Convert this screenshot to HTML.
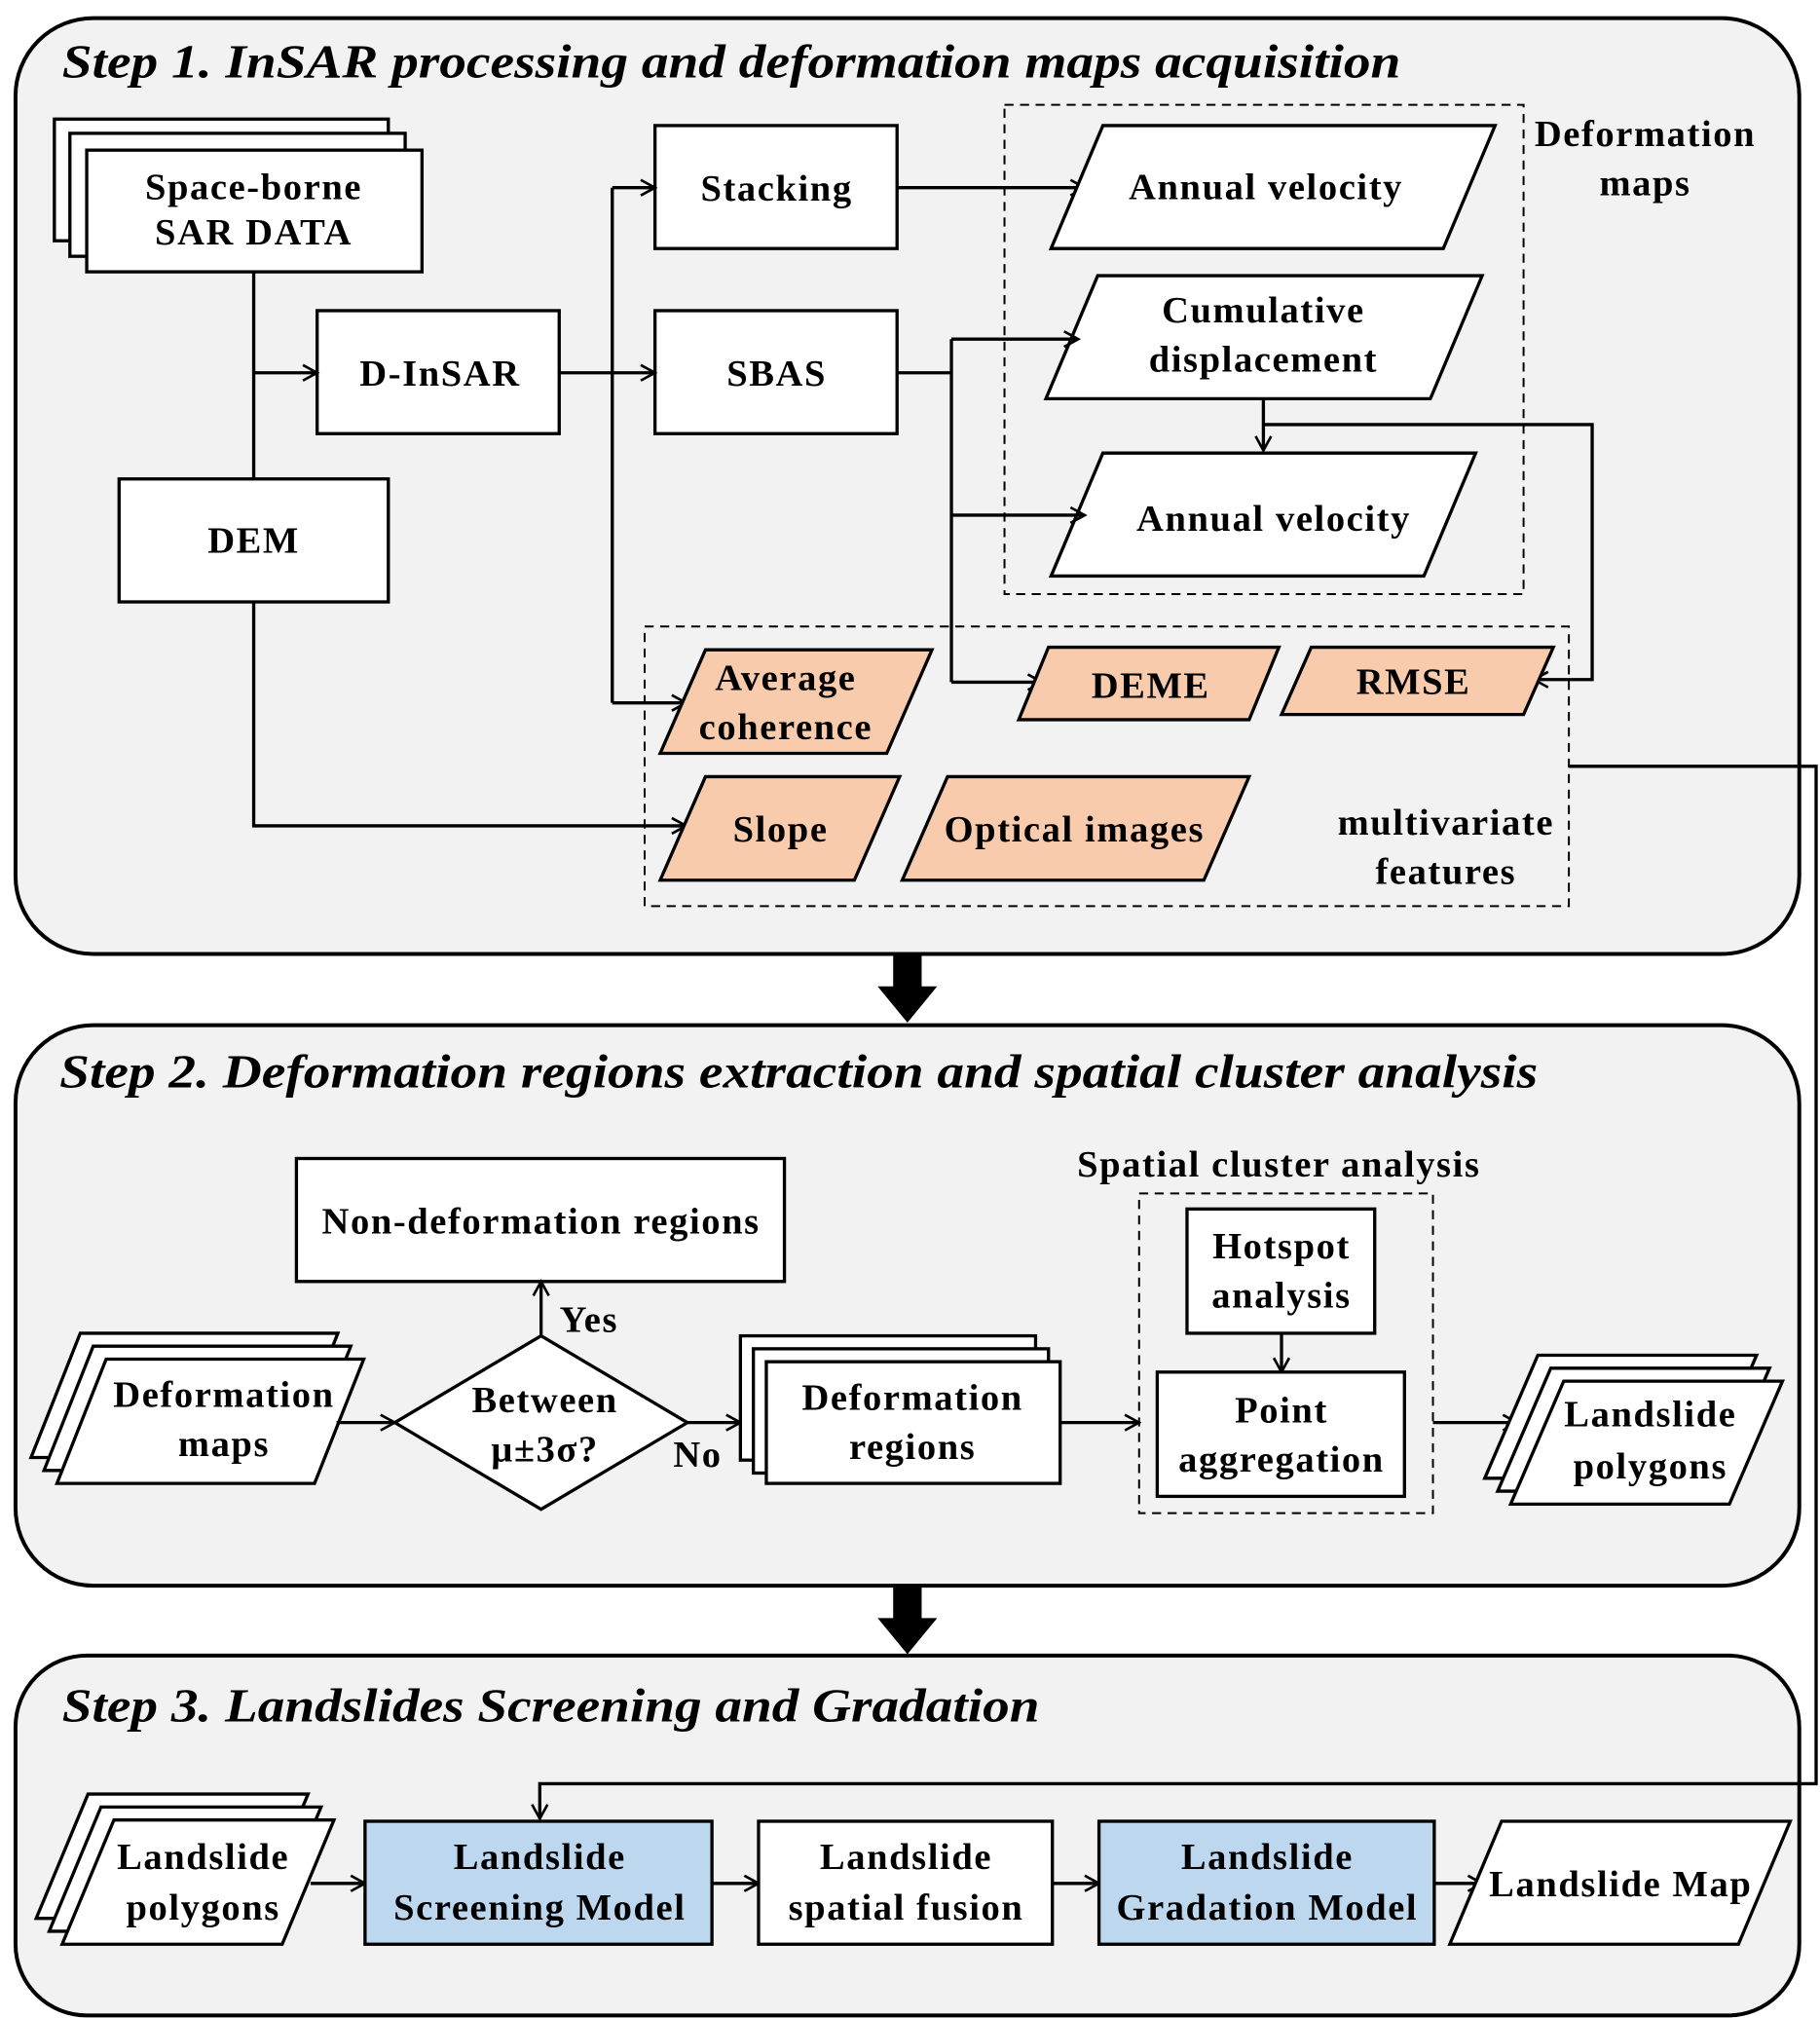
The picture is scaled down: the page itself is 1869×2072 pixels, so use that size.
<!DOCTYPE html>
<html><head><meta charset="utf-8"><style>
html,body{margin:0;padding:0;background:#fff;}
svg{display:block;}
text{font-family:"Liberation Serif",serif;font-weight:bold;font-size:29px;fill:#000;text-anchor:middle;letter-spacing:1.2px;}
.t{font-style:italic;font-size:37px;text-anchor:start;letter-spacing:0;}
.b{fill:#fff;stroke:#000;stroke-width:2.5;}
.o{fill:#f8cbad;stroke:#000;stroke-width:2.5;}
.bl{fill:#bdd7ee;stroke:#000;stroke-width:2.5;}
.d{fill:none;stroke:#000;stroke-width:1.5;stroke-dasharray:7,5;}
.l{fill:none;stroke:#000;stroke-width:2.5;}
.p{fill:#f2f2f2;stroke:#000;stroke-width:3;}
</style></head><body>
<svg width="1869" height="2072" viewBox="0 0 1406 1559" preserveAspectRatio="none" xmlns="http://www.w3.org/2000/svg">
<defs><marker id="a" markerWidth="14" markerHeight="14" refX="12" refY="7" orient="auto" markerUnits="userSpaceOnUse"><path d="M1,1 L12,7 L1,13" fill="none" stroke="#000" stroke-width="2"/></marker></defs>
<rect width="1406" height="1559" fill="#fff"/>
<rect class="p" x="12" y="14" width="1378" height="723" rx="60"/>
<rect class="p" x="12" y="792" width="1378" height="433" rx="60"/>
<rect class="p" x="12" y="1279" width="1378" height="278" rx="55"/>
<polygon points="690,737 712,737 712,762 724,762 701,790 678,762 690,762" fill="#000"/>
<polygon points="690,1225 712,1225 712,1250 724,1250 701,1278 678,1250 690,1250" fill="#000"/>
<text class="t" x="48" y="60" textLength="1034" lengthAdjust="spacingAndGlyphs">Step 1. InSAR processing and deformation maps acquisition</text>
<text class="t" x="46" y="840" textLength="1142" lengthAdjust="spacingAndGlyphs">Step 2. Deformation regions extraction and spatial cluster analysis</text>
<text class="t" x="48" y="1330" textLength="755" lengthAdjust="spacingAndGlyphs">Step 3. Landslides Screening and Gradation</text>

<rect class="b" x="42" y="92" width="258" height="94"/>
<rect class="b" x="54" y="103" width="259" height="95"/>
<rect class="b" x="67" y="116" width="259" height="94"/>
<text x="196" y="154">Space-borne</text><text x="196" y="189">SAR DATA</text>
<rect class="b" x="245" y="240" width="187" height="95"/><text x="340" y="298">D-InSAR</text>
<rect class="b" x="92" y="370" width="208" height="95"/><text x="196" y="427">DEM</text>
<path class="l" d="M196,210 V370"/>
<path class="l" d="M196,288 H245" marker-end="url(#a)"/>
<path class="l" d="M196,465 V638 H530" marker-end="url(#a)"/>
<rect class="b" x="506" y="97" width="187" height="95"/><text x="600" y="155">Stacking</text>
<rect class="b" x="506" y="240" width="187" height="95"/><text x="600" y="298">SBAS</text>
<path class="l" d="M432,288 H506" marker-end="url(#a)"/>
<path class="l" d="M473,145 V543"/>
<path class="l" d="M473,145 H506" marker-end="url(#a)"/>
<path class="l" d="M473,543 H530" marker-end="url(#a)"/>
<path class="l" d="M693,145 H838" marker-end="url(#a)"/>
<rect class="d" x="776" y="81" width="401" height="378"/>
<polygon class="b" points="812,192 852,97 1155,97 1115,192"/><text x="978" y="154">Annual velocity</text>
<polygon class="b" points="808,308 848,213 1145,213 1105,308"/><text x="976" y="249">Cumulative</text><text x="976" y="287">displacement</text>
<polygon class="b" points="812,445 852,350 1140,350 1100,445"/><text x="984" y="410">Annual velocity</text>
<text x="1271" y="113">Deformation</text><text x="1271" y="151">maps</text>
<path class="l" d="M693,288 H735"/>
<path class="l" d="M735,262 V527"/>
<path class="l" d="M735,262 H833" marker-end="url(#a)"/>
<path class="l" d="M735,398 H838" marker-end="url(#a)"/>
<path class="l" d="M735,527 H805" marker-end="url(#a)"/>
<path class="l" d="M976,308 V348" marker-end="url(#a)"/>
<path class="l" d="M976,328 H1230 V525 H1185" marker-end="url(#a)"/>
<rect class="d" x="498" y="484" width="714" height="216"/>
<polygon class="o" points="510,582 545,502 720,502 685,582"/><text x="607" y="533">Average</text><text x="607" y="571">coherence</text>
<polygon class="o" points="787,556 810,500 988,500 965,556"/><text x="889" y="539">DEME</text>
<polygon class="o" points="990,552 1013,500 1200,500 1177,552"/><text x="1092" y="536">RMSE</text>
<polygon class="o" points="510,680 545,600 695,600 660,680"/><text x="603" y="650">Slope</text>
<polygon class="o" points="697,680 732,600 965,600 930,680"/><text x="830" y="650">Optical images</text>
<text x="1117" y="645">multivariate</text><text x="1117" y="683">features</text>
<path class="l" d="M1212,592 H1403 V1378 H417 V1405" marker-end="url(#a)"/>

<rect class="b" x="229" y="895" width="377" height="95"/><text x="418" y="953">Non-deformation regions</text>
<polygon class="b" points="418,1032 531,1099 418,1166 305,1099"/>
<text x="421" y="1091">Between</text><text x="421" y="1129">μ±3σ?</text>
<path class="l" d="M418,1032 V990" marker-end="url(#a)"/>
<text x="455" y="1029">Yes</text>
<polygon class="b" points="24,1126 62,1030 261,1030 223,1126"/>
<polygon class="b" points="34,1136 72,1040 271,1040 233,1136"/>
<polygon class="b" points="44,1146 82,1050 281,1050 243,1146"/>
<text x="173" y="1087">Deformation</text><text x="173" y="1125">maps</text>
<path class="l" d="M260,1099 H305" marker-end="url(#a)"/>
<path class="l" d="M531,1099 H572" marker-end="url(#a)"/>
<text x="539" y="1133">No</text>
<rect class="b" x="572" y="1032" width="228" height="96"/>
<rect class="b" x="582" y="1042" width="228" height="96"/>
<rect class="b" x="592" y="1052" width="227" height="94"/>
<text x="705" y="1089">Deformation</text><text x="705" y="1127">regions</text>
<path class="l" d="M819,1099 H880" marker-end="url(#a)"/>
<text x="988" y="909">Spatial cluster analysis</text>
<rect class="d" x="880" y="922" width="227" height="247"/>
<rect class="b" x="917" y="934" width="145" height="96"/><text x="990" y="972">Hotspot</text><text x="990" y="1010">analysis</text>
<path class="l" d="M990,1030 V1060" marker-end="url(#a)"/>
<rect class="b" x="894" y="1060" width="191" height="96"/><text x="990" y="1099">Point</text><text x="990" y="1137">aggregation</text>
<path class="l" d="M1107,1099 H1172" marker-end="url(#a)"/>
<polygon class="b" points="1147,1142 1188,1047 1357,1047 1316,1142"/>
<polygon class="b" points="1157,1152 1198,1057 1367,1057 1326,1152"/>
<polygon class="b" points="1167,1162 1208,1067 1377,1067 1336,1162"/>
<text x="1275" y="1102">Landslide</text><text x="1275" y="1142">polygons</text>

<polygon class="b" points="28,1482 68,1386 238,1386 198,1482"/>
<polygon class="b" points="38,1492 78,1396 248,1396 208,1492"/>
<polygon class="b" points="48,1502 88,1406 258,1406 218,1502"/>
<text x="157" y="1444">Landslide</text><text x="157" y="1483">polygons</text>
<path class="l" d="M240,1455 H282" marker-end="url(#a)"/>
<rect class="bl" x="282" y="1407" width="268" height="95"/><text x="417" y="1444">Landslide</text><text x="417" y="1483">Screening Model</text>
<path class="l" d="M550,1455 H586" marker-end="url(#a)"/>
<rect class="b" x="586" y="1407" width="227" height="95"/><text x="700" y="1444">Landslide</text><text x="700" y="1483">spatial fusion</text>
<path class="l" d="M813,1455 H849" marker-end="url(#a)"/>
<rect class="bl" x="849" y="1407" width="259" height="95"/><text x="979" y="1444">Landslide</text><text x="979" y="1483">Gradation Model</text>
<path class="l" d="M1108,1455 H1145" marker-end="url(#a)"/>
<polygon class="b" points="1120,1502 1160,1407 1383,1407 1343,1502"/>
<text x="1252" y="1465">Landslide Map</text>
</svg>
</body></html>
